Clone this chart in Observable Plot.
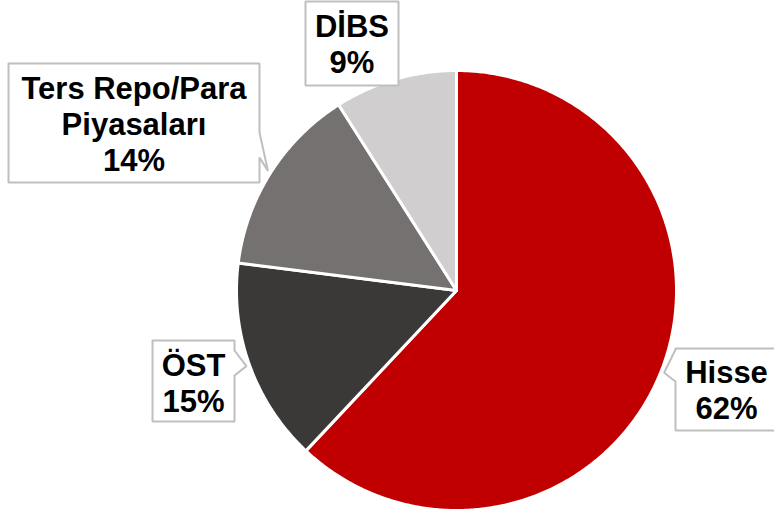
<!DOCTYPE html>
<html><head><meta charset="utf-8">
<script src="https://cdn.jsdelivr.net/npm/d3@7"></script>
<script src="https://cdn.jsdelivr.net/npm/@observablehq/plot@0.6"></script>
<style>body{margin:0;background:#fff;overflow:hidden}</style>
</head><body><div id="chart"></div>
<script>
// ---- data ----
const categories = ["Hisse", "ÖST", "Ters Repo/Para Piyasaları", "DİBS"];
const labelNames = ["Hisse", "ÖST", "Ters Repo/Para\nPiyasaları", "DİBS"];
const values = [62, 15, 14, 9];
const colors = ["#C00000", "#3B3838", "#767171", "#D0CECE"];

// ---- layout (pixels) ----
const W = 774, H = 509, cx = 456, cy = 290, R = 220;
const callouts = [
  {box: [675, 348, 800, 430], side: "left",  base: [349, 381], baseline: 418},
  {box: [152, 340, 234, 421], side: "right", base: [350, 375], baseline: 411},
  {box: [8, 63, 259, 182],    side: "right", base: [132, 157], baseline: 170},
  {box: [305, 1, 398, 85],    side: null,    base: null,       baseline: 72}
];

const toX = px => (px - cx) / R;
const toY = py => (cy - py) / R;

// pie geometry via d3.pie
const arcs = d3.pie().sort(null).value(d => d)(values);
const slicePts = [];
arcs.forEach((a, i) => {
  const k = categories[i];
  slicePts.push({k, x: 0, y: 0});
  const n = Math.max(2, Math.ceil((a.endAngle - a.startAngle) / (Math.PI / 360)));
  for (let j = 0; j <= n; j++) {
    const t = a.startAngle + (a.endAngle - a.startAngle) * j / n;
    slicePts.push({k, x: Math.sin(t), y: Math.cos(t)});
  }
  slicePts.push({k, x: 0, y: 0});
});

// callout boxes with pointer toward slice middle
const boxPts = [];
const textData = [];
arcs.forEach((a, i) => {
  const c = callouts[i];
  const [x0, y0, x1, y1] = c.box;
  const mid = (a.startAngle + a.endAngle) / 2;
  const tip = {x: Math.sin(mid) * 1.015, y: Math.cos(mid) * 1.015};
  const k = categories[i];
  let pts;
  if (c.side === "left") {
    pts = [[x0, y0], [x1, y0], [x1, y1], [x0, y1], [x0, c.base[1]], null, [x0, c.base[0]], [x0, y0]];
  } else if (c.side === "right") {
    pts = [[x0, y0], [x1, y0], [x1, c.base[0]], null, [x1, c.base[1]], [x1, y1], [x0, y1], [x0, y0]];
  } else {
    pts = [[x0, y0], [x1, y0], [x1, y1], [x0, y1], [x0, y0]];
  }
  pts.forEach(p => boxPts.push(p ? {k, x: toX(p[0]), y: toY(p[1])} : {k, x: tip.x, y: tip.y}));
  textData.push({
    text: labelNames[i] + "\n" + values[i] + "%",
    x: toX((x0 + Math.min(x1, 777)) / 2),
    y: toY(c.baseline)
  });
});

const chart = Plot.plot({
  width: W,
  height: H,
  margin: 0,
  style: {background: "transparent"},
  x: {domain: [toX(0), toX(W)], axis: null},
  y: {domain: [toY(H), toY(0)], axis: null},
  color: {domain: categories, range: colors},
  marks: [
    Plot.line(slicePts, {x: "x", y: "y", z: "k", fill: "k", stroke: "#ffffff", strokeWidth: 3, strokeLinejoin: "round", curve: "linear"}),
    Plot.line(boxPts, {x: "x", y: "y", z: "k", fill: "#ffffff", stroke: "#BFBFBF", strokeWidth: 2, strokeLinejoin: "miter", curve: "linear"}),
    Plot.text(textData, {x: "x", y: "y", text: "text", lineAnchor: "bottom", textAnchor: "middle", lineHeight: 1.15,
      fontSize: 31, fontWeight: "bold", fontFamily: "'Liberation Sans', Arial, sans-serif", fill: "#000"})
  ]
});
document.getElementById("chart").appendChild(chart);
</script>
</body></html>
